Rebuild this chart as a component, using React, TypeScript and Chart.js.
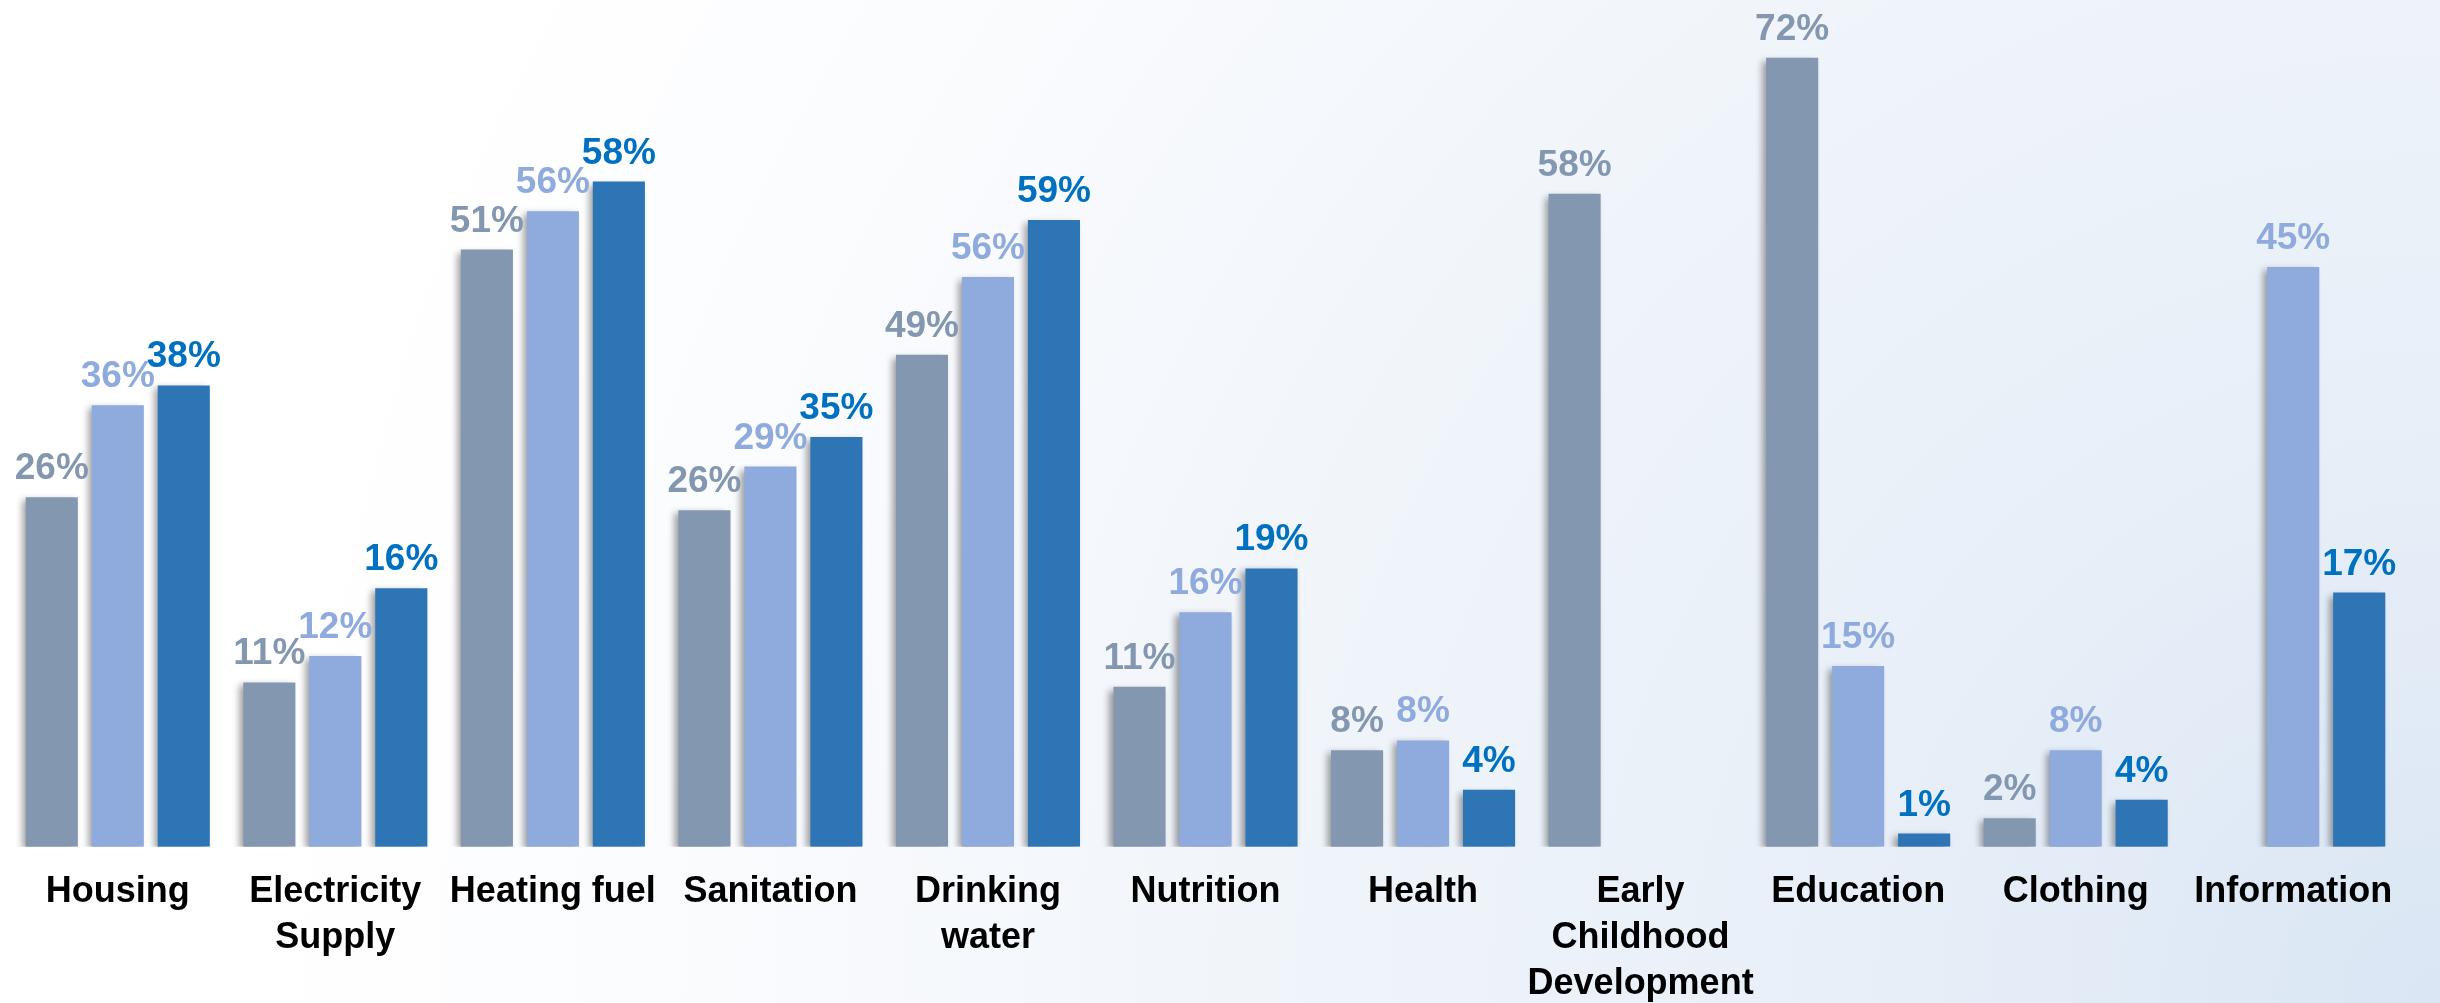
import React, { useEffect, useRef } from "react";
import { Chart, registerables } from "chart.js";

Chart.register(...registerables);

// Categories (multi-line labels as arrays)
const categories: (string | string[])[] = [
  "Housing",
  ["Electricity", "Supply"],
  "Heating fuel",
  "Sanitation",
  ["Drinking", "water"],
  "Nutrition",
  "Health",
  ["Early", "Childhood", "Development"],
  "Education",
  "Clothing",
  "Information",
];

// Bar heights as drawn in the reference (percent units)
const seriesA = [31.9, 15.0, 54.5, 30.7, 44.9, 14.6, 8.8, 59.6, 72.0, 2.6, 0];
const seriesB = [40.3, 17.4, 58.0, 34.7, 52.0, 21.4, 9.7, 0, 16.5, 8.8, 52.9];
const seriesC = [42.1, 23.6, 60.7, 37.4, 57.2, 25.4, 5.2, 0, 1.2, 4.3, 23.2];

// Value labels printed above the bars
const labelsA = ["26%", "11%", "51%", "26%", "49%", "11%", "8%", "58%", "72%", "2%", ""];
const labelsB = ["36%", "12%", "56%", "29%", "56%", "16%", "8%", "", "15%", "8%", "45%"];
const labelsC = ["38%", "16%", "58%", "35%", "59%", "19%", "4%", "", "1%", "4%", "17%"];

const barColors = ["#8497B0", "#8FAADC", "#2E75B6"];
const labelColors = ["#8497B0", "#8FAADC", "#0070C0"];
const valueLabels = [labelsA, labelsB, labelsC];

const FONT = "'Liberation Sans', Arial, sans-serif";

const shadowAndLabels = {
  id: "shadowAndLabels",
  beforeDatasetsDraw(chart: any) {
    const ctx = chart.ctx;
    ctx.save();
    ctx.shadowColor = "rgba(0,0,0,0.38)";
    ctx.shadowBlur = 7;
    ctx.shadowOffsetX = -4;
    ctx.shadowOffsetY = 3;
  },
  afterDatasetsDraw(chart: any) {
    const ctx = chart.ctx;
    ctx.restore();
    ctx.save();
    ctx.font = `bold 37px ${FONT}`;
    ctx.textAlign = "center";
    ctx.textBaseline = "alphabetic";
    chart.data.datasets.forEach((ds: any, i: number) => {
      const meta = chart.getDatasetMeta(i);
      meta.data.forEach((bar: any, j: number) => {
        const txt = valueLabels[i][j];
        if (!txt) return;
        ctx.fillStyle = labelColors[i];
        ctx.fillText(txt, bar.x, bar.y - 18);
      });
    });
    ctx.restore();
  },
};

export default function App() {
  const ref = useRef<HTMLCanvasElement | null>(null);

  useEffect(() => {
    if (!ref.current) return;
    const chart = new Chart(ref.current, {
      type: "bar",
      data: {
        labels: categories as any,
        datasets: [
          { label: "Series A", data: seriesA, backgroundColor: barColors[0] },
          { label: "Series B", data: seriesB, backgroundColor: barColors[1] },
          { label: "Series C", data: seriesC, backgroundColor: barColors[2] },
        ],
      },
      options: {
        animation: false,
        responsive: false,
        maintainAspectRatio: false,
        devicePixelRatio: 1,
        layout: { padding: { top: 3, left: 9, right: 38, bottom: 0 } },
        datasets: {
          bar: { categoryPercentage: 0.91, barPercentage: 0.79 },
        },
        plugins: {
          legend: { display: false },
          tooltip: { enabled: false },
        },
        scales: {
          x: {
            grid: { display: false, drawTicks: false },
            border: { display: false },
            ticks: {
              color: "#000000",
              font: { family: FONT, size: 36, weight: "bold", lineHeight: 1.28 },
              padding: 22,
              maxRotation: 0,
              minRotation: 0,
              autoSkip: false,
            },
          },
          y: {
            display: false,
            min: 0,
            max: 77,
          },
        },
      },
      plugins: [shadowAndLabels],
    });
    return () => chart.destroy();
  }, []);

  return (
    <div
      style={{
        position: "fixed",
        left: 0,
        top: 0,
        width: 2440,
        height: 1003,
        overflow: "hidden",
        background:
          "radial-gradient(circle at 100% 100%, #dae6f4 0px, #e8eff8 600px, #eff4fa 1100px, #fbfcfe 1800px, #ffffff 2200px)",
      }}
    >
      <canvas
        ref={ref}
        width={2440}
        height={1029}
        style={{ display: "block", width: 2440, height: 1029 }}
      />
    </div>
  );
}
